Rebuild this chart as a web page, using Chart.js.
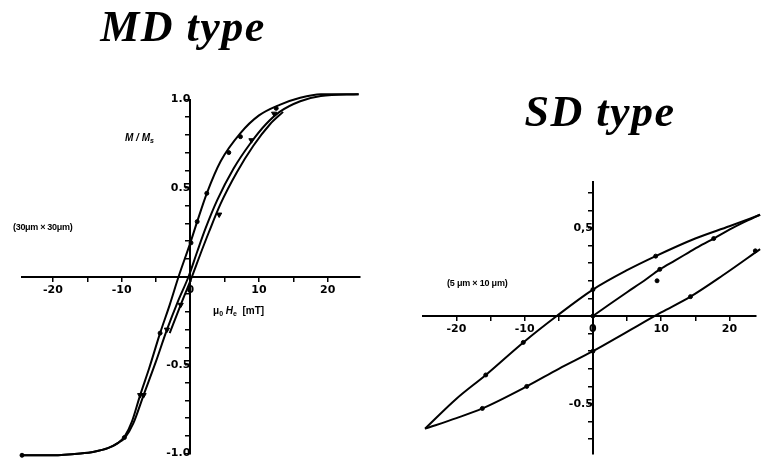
<!DOCTYPE html>
<html><head><meta charset="utf-8">
<script src="https://cdn.jsdelivr.net/npm/chart.js@4.4.1/dist/chart.umd.min.js"></script>
<style>
html,body{margin:0;padding:0;background:#fff;overflow:hidden;width:761px;height:461px;}
canvas{position:absolute;left:0;top:0;}
.t{position:absolute;font-family:"Liberation Serif",serif;font-style:italic;font-weight:bold;font-size:44px;line-height:44px;white-space:nowrap;color:#000;letter-spacing:1.5px;transform:translateX(-50%);}
.lbl{position:absolute;font-family:"Liberation Sans",sans-serif;font-weight:bold;font-size:9px;line-height:10px;white-space:nowrap;color:#000;}
.sub{font-size:7px;position:relative;top:2px;}
</style></head>
<body>
<canvas id="md" width="761" height="500"></canvas>
<canvas id="sd" width="761" height="500"></canvas>
<div class="t" style="left:183px;top:5px;">MD type</div>
<div class="t" style="left:600px;top:90px;">SD type</div>
<div class="lbl" style="left:13px;top:222px;letter-spacing:-0.3px;">(30μm × 30μm)</div>
<div class="lbl" style="left:125px;top:133px;font-style:italic;font-size:10px;">M / M<span class="sub">s</span></div>
<div class="lbl" style="left:213px;top:306px;font-size:10px;">μ<span class="sub">0</span> <i>H</i><span class="sub">e</span> &nbsp;[mT]</div>
<div class="lbl" style="left:447px;top:278px;letter-spacing:-0.2px;">(5 μm × 10 μm)</div>
<script>
// ---------- MD type (30 µm x 30 µm) ----------
const mdLeftH  = [-24.5, -20, -16, -14, -12, -10.5, -9.5, -8.5, -7.3, -6, -4.4, -3, -1.7, 0, 1, 2.4, 4.4, 7.3, 10, 13, 16, 19, 24.5];
const mdLeftM  = [-1.01, -1.01, -1.0, -0.99, -0.97, -0.94, -0.90, -0.82, -0.67, -0.52, -0.32, -0.16, 0, 0.19, 0.31, 0.47, 0.65, 0.81, 0.91, 0.97, 1.01, 1.03, 1.03];
const mdRightH = [-24.5, -20, -16, -14, -12, -10.5, -9.5, -8.3, -6.8, -5, -3.4, -1.8, -0.25, 1, 2.2, 3.9, 6.3, 8.7, 11, 13, 16, 19, 24.5];
const mdRightM = [-1.01, -1.01, -1.0, -0.99, -0.97, -0.94, -0.91, -0.83, -0.67, -0.48, -0.30, -0.14, 0, 0.14, 0.27, 0.43, 0.61, 0.75, 0.86, 0.93, 0.99, 1.02, 1.03];
const mdInnerH = [-3.0, -1.4, 0.25, 1.5, 2.7, 4.4, 6.8, 9.2, 11.6, 13.5];
const mdInnerM = [-0.32, -0.16, 0, 0.13, 0.25, 0.41, 0.59, 0.74, 0.86, 0.93];
const mdDotH   = [-24.5, 0.1, 1.0, 2.4, 5.6, 7.3, 12.5, -9.6, -4.4];
const mdDotM   = [-1.01, 0.19, 0.31, 0.47, 0.70, 0.79, 0.95, -0.91, -0.32];
const mdTriH   = [4.2, -7.3, -6.8, -3.4, -1.4, 8.9, 12.2];
const mdTriM   = [0.35, -0.67, -0.67, -0.30, -0.16, 0.77, 0.92];
const mdXTickVals = [-20, -10, 0, 10, 20];
const mdXTickText = ['-20', '-10', '0', '10', '20'];
const mdYTickVals = [1.0, 0.5, -0.5, -1.0];
const mdYTickText = ['1.0', '0.5', '-0.5', '-1.0'];

// ---------- SD type (5 µm x 10 µm) ----------
const sdUpperH = [-24.6, -20, -15.7, -10.2, -5.3, 0, 5, 9.2, 15, 20, 24.5];
const sdUpperM = [-0.64, -0.47, -0.335, -0.15, 0, 0.15, 0.26, 0.34, 0.44, 0.51, 0.575];
const sdLowerH = [-24.6, -20, -16.2, -9.7, -5, 0, 5, 10, 14.3, 19, 24.5];
const sdLowerM = [-0.64, -0.58, -0.525, -0.40, -0.30, -0.20, -0.09, 0.02, 0.11, 0.23, 0.38];
const sdInitH  = [0, 2.5, 5, 7.5, 9.8, 12, 14, 16, 17.7, 20, 22, 24.5];
const sdInitM  = [0, 0.068, 0.135, 0.2, 0.265, 0.315, 0.36, 0.405, 0.44, 0.49, 0.53, 0.575];
const sdDotH   = [-15.7, -10.2, 0, 9.2, -16.2, -9.7, 0, 14.3, 23.8, 0, 9.8, 17.7, 9.4];
const sdDotM   = [-0.335, -0.15, 0.15, 0.34, -0.525, -0.40, -0.20, 0.11, 0.37, 0, 0.265, 0.44, 0.20];
const sdXTickVals = [-20, -10, 0, 10, 20];
const sdXTickText = ['-20', '-10', '0', '10', '20'];
const sdYTickVals = [0.5, -0.5];
const sdYTickText = ['0,5', '-0.5'];

function pts(xs, ys) { return xs.map((x, i) => ({x: x, y: ys[i]})); }
function lineDs(xs, ys) {
  return {data: pts(xs, ys), showLine: true, borderColor: '#000', borderWidth: 2, pointRadius: 0,
          cubicInterpolationMode: 'monotone', fill: false, clip: false};
}
function markDs(xs, ys, style, r, rot) {
  return {data: pts(xs, ys), showLine: false, pointStyle: style, pointRadius: r, rotation: rot || 0,
          backgroundColor: '#000', borderColor: '#000', borderWidth: 1, clip: false};
}
function labelFrom(vals, texts) {
  return function (v) {
    for (let i = 0; i < vals.length; i++) if (Math.abs(vals[i] - v) < 1e-6) return texts[i];
    return '';
  };
}
const tickFont = {family: 'DejaVu Sans', weight: 'bold', size: 11};
function axis(min, max, step, pos, vals, texts, pad) {
  return {
    type: 'linear', min: min, max: max, position: pos,
    border: {display: true, color: '#000', width: 2},
    grid: {display: true, drawOnChartArea: false, drawTicks: true, tickLength: 4, color: '#000', lineWidth: 1.5},
    ticks: {stepSize: step, includeBounds: false, autoSkip: false, maxTicksLimit: 100, maxRotation: 0,
            color: '#000', font: tickFont, padding: pad, callback: labelFrom(vals, texts)}
  };
}
const common = {
  responsive: false, animation: false, events: [],
  plugins: {legend: {display: false}, tooltip: {enabled: false}, title: {display: false}},
  elements: {line: {tension: 0.4}}
};

new Chart(document.getElementById('md'), {
  type: 'scatter',
  data: {datasets: [
    lineDs(mdLeftH, mdLeftM), lineDs(mdRightH, mdRightM), lineDs(mdInnerH, mdInnerM),
    markDs(mdDotH, mdDotM, 'circle', 2), markDs(mdTriH, mdTriM, 'triangle', 3, 180)
  ]},
  options: Object.assign({}, common, {
    layout: {padding: {left: 22, right: 401, top: 99.5, bottom: 46.5}},
    scales: {
      x: axis(-24.5, 24.7, 5, {y: 0}, mdXTickVals, mdXTickText, 3),
      y: axis(-1.0, 1.0, 0.1, {x: 0}, mdYTickVals, mdYTickText, 1)
    }
  })
});

new Chart(document.getElementById('sd'), {
  type: 'scatter',
  data: {datasets: [
    lineDs(sdUpperH, sdUpperM), lineDs(sdLowerH, sdLowerM), lineDs(sdInitH, sdInitM),
    markDs(sdDotH, sdDotM, 'circle', 2)
  ]},
  options: Object.assign({}, common, {
    layout: {padding: {left: 423, right: 0, top: 182.2, bottom: 46.7}},
    scales: {
      x: axis(-24.9, 23.9, 5, {y: 0}, sdXTickVals, sdXTickText, 3),
      y: axis(-0.78, 0.76, 0.1, {x: 0}, sdYTickVals, sdYTickText, 2)
    }
  })
});
</script>
</body></html>
